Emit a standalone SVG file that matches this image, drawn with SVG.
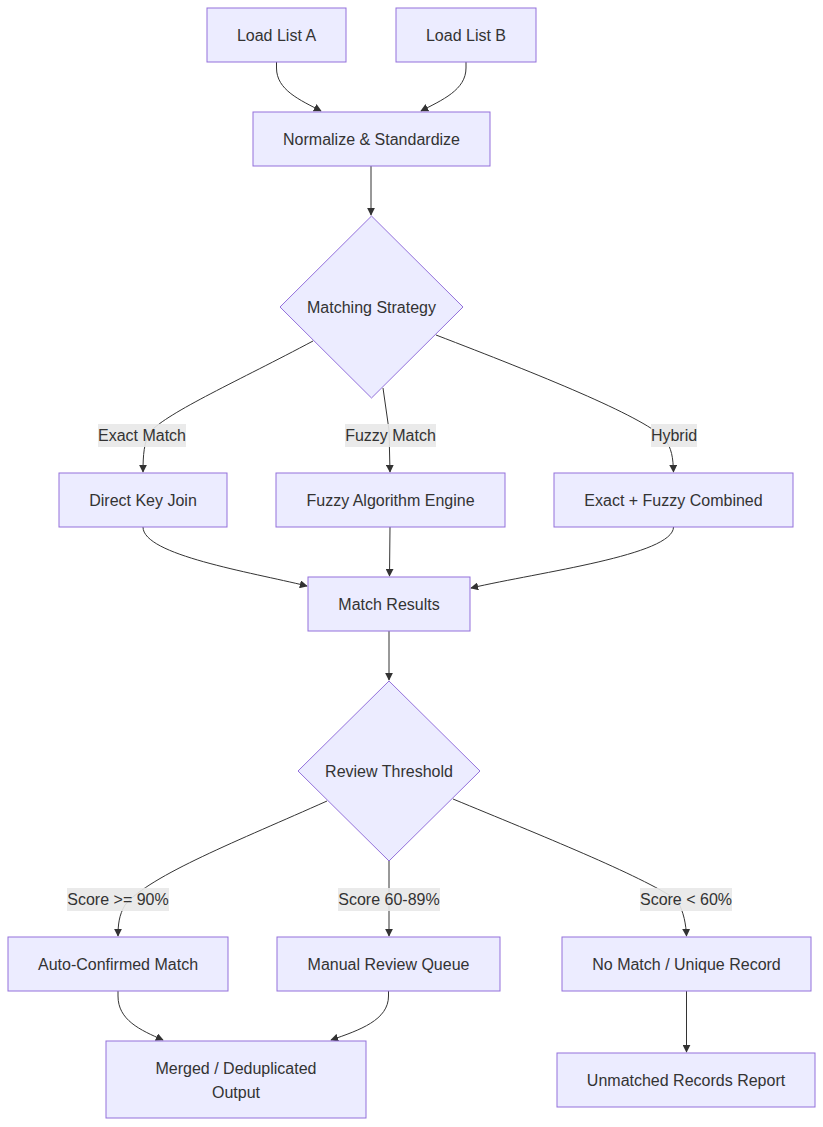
<svg xmlns="http://www.w3.org/2000/svg" width="823" height="1127" viewBox="0 0 823 1127">
<style>
.n rect,.n polygon{fill:#ECECFF;stroke:#9370DB;stroke-width:1}
.n text,.lb text{font-family:"Liberation Sans",Arial,sans-serif;font-size:16px;fill:#333;text-anchor:middle;dominant-baseline:central}
.e path{fill:none;stroke:#333;stroke-width:1;marker-end:url(#ah)}
.lb rect{fill:#e8e8e8;opacity:0.9}
</style>
<defs>
<marker id="ah" viewBox="0 0 10 10" refX="9" refY="5" markerWidth="8" markerHeight="8" orient="auto" markerUnits="userSpaceOnUse">
<path d="M0,0 L10,5 L0,10 z" fill="#333"/>
</marker>
</defs>
<rect width="823" height="1127" fill="#fff"/>
<g id="edges" class="e">
<path d="M276.5,62 L276.5,68 C276.5,90 300,100 321,111"/>
<path d="M466,62 L466,68 C466,90 442,100 421,111"/>
<path d="M371,166 L371,215"/>
<path d="M313,341 C240,380 168,412 150,432 C144,442 143,455 143,472"/>
<path d="M383,388 L389,430 L390,472"/>
<path d="M436,335 C540,375 640,415 664,438 C672,448 673,458 673.5,472"/>
<path d="M143,527 C143,555 250,572 307,586"/>
<path d="M390,527 L389.5,576"/>
<path d="M673.5,527 C673.5,555 540,572 471,588"/>
<path d="M389,631 L389,680"/>
<path d="M327,801 C240,840 150,875 125,905 C119,915 118,925 118,936"/>
<path d="M389,861 L389,936"/>
<path d="M453,799 C540,835 640,875 677,900 C684,912 686,925 686.5,936"/>
<path d="M118,991 L118,996 C118,1020 140,1030 163,1040"/>
<path d="M388.5,991 L388.5,996 C388.5,1020 360,1030 331,1040"/>
<path d="M686.5,991 L686.5,1052"/>
</g>
<g id="edge-labels" class="lb">
<g><rect x="98" y="424" width="88" height="23"/><text x="142" y="435.5">Exact Match</text></g>
<g><rect x="345" y="424" width="91" height="23"/><text x="390.5" y="435.5">Fuzzy Match</text></g>
<g><rect x="651" y="424" width="46" height="23"/><text x="674" y="435.5">Hybrid</text></g>
<g><rect x="67" y="888" width="102" height="23"/><text x="118" y="899.5">Score &gt;= 90%</text></g>
<g><rect x="338" y="888" width="102" height="23"/><text x="389" y="899.5">Score 60-89%</text></g>
<g><rect x="640" y="888" width="92" height="23"/><text x="686" y="899.5">Score &lt; 60%</text></g>
</g>
<g id="loadA" class="n"><rect x="207" y="8" width="139" height="54"/><text x="276.5" y="35">Load List A</text></g>
<g id="loadB" class="n"><rect x="396" y="8" width="140" height="54"/><text x="466" y="35">Load List B</text></g>
<g id="normalize" class="n"><rect x="253" y="112" width="237" height="54"/><text x="371.5" y="139">Normalize &amp; Standardize</text></g>
<g id="strategy" class="n"><polygon points="371.5,216 463,307 371.5,398 280,307"/><text x="371.5" y="307">Matching Strategy</text></g>
<g id="direct" class="n"><rect x="59" y="473" width="168" height="54"/><text x="143" y="500">Direct Key Join</text></g>
<g id="fuzzy" class="n"><rect x="276" y="473" width="229" height="54"/><text x="390.5" y="500">Fuzzy Algorithm Engine</text></g>
<g id="hybrid" class="n"><rect x="554" y="473" width="239" height="54"/><text x="673.5" y="500">Exact + Fuzzy Combined</text></g>
<g id="results" class="n"><rect x="308" y="577" width="162" height="54"/><text x="389" y="604">Match Results</text></g>
<g id="review" class="n"><polygon points="389,681 480,771 389,861 298,771"/><text x="389" y="771">Review Threshold</text></g>
<g id="auto" class="n"><rect x="8" y="937" width="220" height="54"/><text x="118" y="964">Auto-Confirmed Match</text></g>
<g id="manual" class="n"><rect x="277" y="937" width="223" height="54"/><text x="388.5" y="964">Manual Review Queue</text></g>
<g id="nomatch" class="n"><rect x="562" y="937" width="249" height="54"/><text x="686.5" y="964">No Match / Unique Record</text></g>
<g id="merged" class="n"><rect x="106" y="1041" width="260" height="77"/><text x="236" y="1068">Merged / Deduplicated</text><text x="236" y="1092">Output</text></g>
<g id="unmatched" class="n"><rect x="557" y="1053" width="258" height="54"/><text x="686" y="1080">Unmatched Records Report</text></g>
</svg>
